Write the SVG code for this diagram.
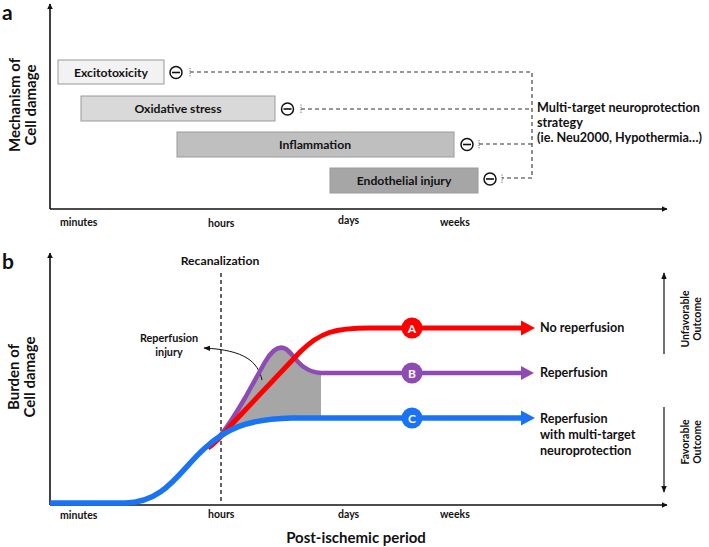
<svg xmlns="http://www.w3.org/2000/svg" width="709" height="547" viewBox="0 0 709 547">
<style>
text{font-family:Lato,"Liberation Sans",sans-serif;font-weight:bold;fill:#111}
.panel{font-size:21px}
.ax{font-size:15px}
.tick{font-size:10.5px}
.box{stroke:#9a9a9a;stroke-width:1}
.bt{font-size:12.2px;text-anchor:middle}
.dash{fill:none;stroke:#333;stroke-width:1.1;stroke-dasharray:4,3}
.minus{fill:#fff;stroke:#111;stroke-width:1.5}
.tee{stroke:#666;stroke-width:1;stroke-dasharray:1.2,1.2}
.axis{stroke:#111;stroke-width:1.6;fill:none}
.lbl{font-size:12.6px}
.circ{font-size:12px;fill:#fff;text-anchor:middle}
.out{font-size:10.5px;text-anchor:middle}
</style>
<defs>
<marker id="ah" viewBox="0 0 10 10" refX="9" refY="5" markerWidth="6" markerHeight="6" markerUnits="userSpaceOnUse" orient="auto"><path d="M0,0 L10,5 L0,10 z" fill="#111"/></marker>
<marker id="ahs" viewBox="0 0 10 10" refX="9" refY="5" markerWidth="7" markerHeight="7" markerUnits="userSpaceOnUse" orient="auto"><path d="M0,1 L10,5 L0,9 z" fill="#111"/></marker>
</defs>

<!-- Panel a -->
<text class="panel" x="2" y="20">a</text>
<g id="axes-a">
<line class="axis" x1="50" y1="209" x2="50" y2="4" marker-end="url(#ah)"/>
<line class="axis" x1="50" y1="209" x2="667" y2="209" marker-end="url(#ah)"/>
<text class="ax" transform="translate(20,105) rotate(-90)" text-anchor="middle">Mechanism of</text>
<text class="ax" transform="translate(36,105) rotate(-90)" text-anchor="middle">Cell damage</text>
<text class="tick" x="60" y="226">minutes</text>
<text class="tick" x="208" y="227">hours</text>
<text class="tick" x="338" y="224">days</text>
<text class="tick" x="440" y="226">weeks</text>
</g>

<g id="excitotoxicity">
<rect class="box" x="58" y="60" width="106" height="24" fill="#f2f2f2"/>
<text class="bt" x="111" y="76.5">Excitotoxicity</text>
</g>
<g id="oxidative">
<rect class="box" x="81" y="96" width="194" height="25" fill="#d9d9d9"/>
<text class="bt" x="178" y="113">Oxidative stress</text>
</g>
<g id="inflammation">
<rect class="box" x="177" y="132" width="277" height="25" fill="#bfbfbf"/>
<text class="bt" x="315" y="149">Inflammation</text>
</g>
<g id="endothelial">
<rect class="box" x="330" y="168" width="148" height="25" fill="#a6a6a6"/>
<text class="bt" x="404" y="185">Endothelial injury</text>
</g>

<g id="inhibitors">
<circle class="minus" cx="176" cy="72.5" r="6"/><line x1="172" y1="72.5" x2="180" y2="72.5" stroke="#111" stroke-width="1.6"/>
<circle class="minus" cx="287.5" cy="109" r="6"/><line x1="283.5" y1="109" x2="291.5" y2="109" stroke="#111" stroke-width="1.6"/>
<circle class="minus" cx="467" cy="144.5" r="6"/><line x1="463" y1="144.5" x2="471" y2="144.5" stroke="#111" stroke-width="1.6"/>
<circle class="minus" cx="490" cy="179" r="6"/><line x1="486" y1="179" x2="494" y2="179" stroke="#111" stroke-width="1.6"/>
</g>

<g id="strategy">
<text class="lbl" x="537" y="112">Multi-target neuroprotection</text>
<text class="lbl" x="537" y="127">strategy</text>
<text class="lbl" x="537" y="142">(ie. Neu2000, Hypothermia…)</text>
</g>

<g id="connectors-a">
<line class="tee" x1="190" y1="68" x2="190" y2="77"/>
<line class="tee" x1="301" y1="104.5" x2="301" y2="113.5"/>
<line class="tee" x1="479" y1="140" x2="479" y2="149"/>
<line class="tee" x1="502" y1="174.5" x2="502" y2="183.5"/>
<path class="dash" d="M190,72 H532 V178 H502"/>
<path class="dash" d="M301,109 H532"/>
<path class="dash" d="M479,144 H532"/>
</g>

<!-- Panel b -->
<text class="panel" x="2" y="269">b</text>
<g id="axes-b">
<line class="axis" x1="50" y1="505" x2="50" y2="253" marker-end="url(#ah)"/>
<line class="axis" x1="50" y1="505" x2="667" y2="505" marker-end="url(#ah)"/>
<text class="ax" transform="translate(19,377) rotate(-90)" text-anchor="middle">Burden of</text>
<text class="ax" transform="translate(35,377) rotate(-90)" text-anchor="middle">Cell damage</text>
<text class="tick" x="60" y="519">minutes</text>
<text class="tick" x="208" y="518">hours</text>
<text class="tick" x="338" y="518">days</text>
<text class="tick" x="440" y="518">weeks</text>
<text x="356" y="543" font-size="15" text-anchor="middle">Post-ischemic period</text>
</g>

<g id="recanalization">
<text x="220" y="265" font-size="12.2" text-anchor="middle">Recanalization</text>
<line x1="221" y1="273" x2="221" y2="504" stroke="#111" stroke-width="1.3" stroke-dasharray="4,3"/>
</g>

<g id="reperfusion-injury">
<path d="M222,436 C232,426 238,412 245,398 L265,362 C272,350 279,345 286,349 C294,354 300,372 321,373 L321,418 L292,418 C262,418 240,424 222,436 Z" fill="#a6a6a6"/>
<text x="169" y="342" font-size="10.8" text-anchor="middle">Reperfusion</text>
<text x="169" y="356" font-size="10.8" text-anchor="middle">injury</text>
<path d="M262,380 C258,362 245,350 204,348" fill="none" stroke="#111" stroke-width="1" marker-end="url(#ahs)"/>
</g>

<g id="connectors-b">
<path d="M214,443 C225,432 235,415 245,398 L265,362 C272,350 279,345 286,349 C294,354 300,372 321,373 L522,373" fill="none" stroke="#8e4bb3" stroke-width="4.5"/>
<path d="M208,448 C218,441 225,432 232,424 L300,352 C320,332 335,328 370,328 L522,328" fill="none" stroke="#ff0000" stroke-width="5"/>
<path d="M50,503 L125,503 C165,503 180,470 205,448 C225,430 245,419 292,418 L522,418" fill="none" stroke="#1a73f5" stroke-width="5.5"/>
<polygon points="521,320.5 535,328 521,335.5" fill="#ff0000"/>
<polygon points="521,366 534,373 521,380" fill="#8e4bb3"/>
<polygon points="521,410.5 535,418 521,425.5" fill="#1a73f5"/>
</g>

<g id="outcome-a">
<circle cx="412" cy="328" r="10.5" fill="#ff0000"/>
<text class="circ" x="412" y="332.5">A</text>
<text class="lbl" x="540" y="332">No reperfusion</text>
</g>
<g id="outcome-b">
<circle cx="412" cy="373" r="10.5" fill="#8e4bb3"/>
<text class="circ" x="412" y="377.5">B</text>
<text class="lbl" x="540" y="377">Reperfusion</text>
</g>
<g id="outcome-c">
<circle cx="412" cy="418" r="10.5" fill="#1a73f5"/>
<text class="circ" x="412" y="422.5">C</text>
<text class="lbl" x="540" y="423">Reperfusion</text>
<text class="lbl" x="540" y="439">with multi-target</text>
<text class="lbl" x="540" y="455">neuroprotection</text>
</g>

<g id="outcome-scale">
<line x1="664" y1="354" x2="664" y2="273" stroke="#111" stroke-width="1.2" marker-end="url(#ahs)"/>
<line x1="664" y1="407" x2="664" y2="492" stroke="#111" stroke-width="1.2" marker-end="url(#ahs)"/>
<text class="out" transform="translate(689,319) rotate(-90)">Unfavorable</text>
<text class="out" transform="translate(701,319) rotate(-90)">Outcome</text>
<text class="out" transform="translate(689,442) rotate(-90)">Favorable</text>
<text class="out" transform="translate(701,442) rotate(-90)">Outcome</text>
</g>
</svg>
